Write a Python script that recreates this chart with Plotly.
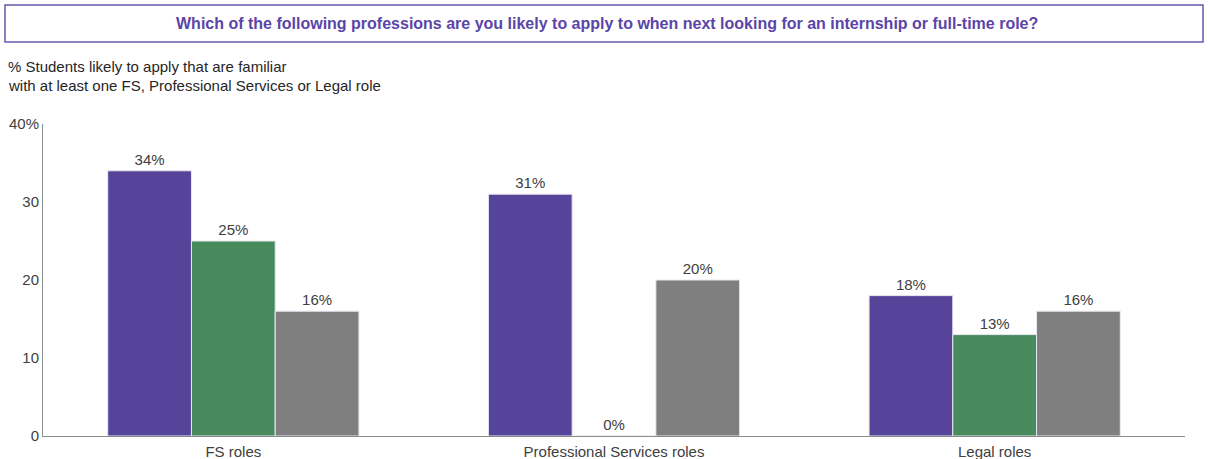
import plotly.graph_objects as go

# Chart data
categories = ["FS roles", "Professional Services roles", "Legal roles"]
series_a = [34, 31, 18]
series_b = [25, 0, 13]
series_c = [16, 20, 16]
series_colors = ["#55449A", "#478A5C", "#7F7F7F"]
y_tickvals = [0, 10, 20, 30, 40]
y_ticktext = ["0", "10", "20", "30", "40%"]

title_text = ("Which of the following professions are you likely to apply to when "
              "next looking for an internship or full-time role?")
axis_title_lines = ["% Students likely to apply that are familiar",
                    "with at least one FS, Professional Services or Legal role"]

FONT = "Arial, 'Liberation Sans', sans-serif"
TEXT_COLOR = "#404040"
FS = 15

fig = go.Figure()
for name, vals, col in zip(["A", "B", "C"], [series_a, series_b, series_c], series_colors):
    fig.add_trace(go.Bar(
        x=categories, y=vals, name=name,
        marker=dict(color=col, line=dict(color="#E8E8F0", width=1)),
        text=[f"{v}%" for v in vals], textposition="outside",
        textfont=dict(family=FONT, size=FS, color=TEXT_COLOR),
        cliponaxis=False,
    ))

# Plot area geometry (pixels) used to place the header box and notes
W, H = 1208, 459
L, R, T, B = 43, 23, 124, 23
pw, ph = W - L - R, H - T - B


def px_x(x):
    return (x - L) / pw


def px_y(y):
    return (H - B - y) / ph


fig.add_shape(type="rect", xref="paper", yref="paper",
              x0=px_x(5), x1=px_x(1203), y0=px_y(42), y1=px_y(5),
              line=dict(color="#6A58B0", width=1.5), fillcolor="rgba(0,0,0,0)")
fig.add_annotation(xref="paper", yref="paper", x=px_x(607), y=px_y(23.5),
                   text=f"<b>{title_text}</b>", showarrow=False,
                   xanchor="center", yanchor="middle",
                   font=dict(family=FONT, size=16, color="#5B45A8"))
for i, line in enumerate(axis_title_lines):
    fig.add_annotation(xref="paper", yref="paper", x=px_x(6), y=px_y(66 + 19 * i),
                       text=line, showarrow=False, xanchor="left", yanchor="middle",
                       font=dict(family=FONT, size=FS, color="#262626"))

fig.update_layout(
    width=W, height=H,
    margin=dict(l=L, r=R, t=T, b=B),
    paper_bgcolor="white", plot_bgcolor="white",
    barmode="group", bargap=0.34, bargroupgap=0,
    showlegend=False,
    font=dict(family=FONT, size=FS, color=TEXT_COLOR),
)
fig.update_yaxes(range=[0, 40], tickvals=y_tickvals, ticktext=y_ticktext,
                 showgrid=False, zeroline=False, showline=True, linecolor="#8C8C8C",
                 linewidth=1, ticks="", ticklen=0, automargin=False,
                 tickfont=dict(family=FONT, size=FS, color=TEXT_COLOR))
fig.update_xaxes(showgrid=False, showline=True, linecolor="#8C8C8C", linewidth=1,
                 ticks="", automargin=False, ticklabelstandoff=2,
                 tickfont=dict(family=FONT, size=FS, color=TEXT_COLOR))

fig.write_html("out.html")
